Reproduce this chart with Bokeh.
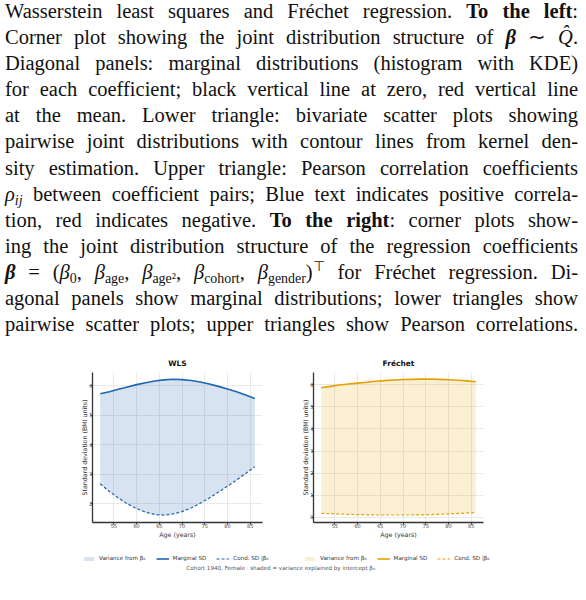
from bokeh.plotting import figure
from bokeh.models import Div, Range1d, Legend, LegendItem, Label, FixedTicker
from bokeh.layouts import column, row
from bokeh.embed import file_html
from bokeh.resources import INLINE

# ---------------- data ----------------
ages = [52, 54, 56, 58, 60, 62, 64, 66, 68, 70, 72, 74, 76, 78, 80, 82, 84, 86]
wls_marginal = [5.73, 5.80, 5.88, 5.96, 6.04, 6.10, 6.16, 6.20, 6.22, 6.21,
                6.18, 6.13, 6.06, 5.98, 5.89, 5.80, 5.69, 5.57]
wls_cond = [2.68, 2.42, 2.20, 2.00, 1.84, 1.72, 1.64, 1.62, 1.66, 1.74,
            1.86, 2.02, 2.20, 2.40, 2.60, 2.81, 3.03, 3.26]
frechet_marginal = [5.87, 5.93, 5.99, 6.04, 6.08, 6.12, 6.16, 6.19, 6.22, 6.24,
                    6.25, 6.26, 6.26, 6.25, 6.23, 6.21, 6.18, 6.14]
frechet_cond = [0.18, 0.16, 0.15, 0.13, 0.12, 0.11, 0.10, 0.10, 0.10, 0.10,
                0.10, 0.11, 0.12, 0.13, 0.15, 0.17, 0.19, 0.21]
x_ticks = [55, 60, 65, 70, 75, 80, 85]
wls_y_ticks = [2, 3, 4, 5, 6]
frechet_y_ticks = [0, 1, 2, 3, 4, 5, 6]
panel_titles = ["WLS", "Fréchet"]
legend_labels = ["Variance from β₀", "Marginal SD", "Cond. SD |β₀"]
caption = "Cohort 1940, Female  ·  shaded = variance explained by intercept β₀"

para_lines = [
    "Wasserstein least squares and Fréchet regression. <b>To the left</b>:",
    "Corner plot showing the joint distribution structure of <b><i>β</i></b> ∼ <i>Q̂</i>.",
    "Diagonal panels: marginal distributions (histogram with KDE)",
    "for each coefficient; black vertical line at zero, red vertical line",
    "at the mean. Lower triangle: bivariate scatter plots showing",
    "pairwise joint distributions with contour lines from kernel den-",
    "sity estimation. Upper triangle: Pearson correlation coefficients",
    "<i>ρ</i><sub><i>ij</i></sub> between coefficient pairs; Blue text indicates positive correla-",
    "tion, red indicates negative. <b>To the right</b>: corner plots show-",
    "ing the joint distribution structure of the regression coefficients",
    "<b><i>β</i></b> = (<i>β</i><sub>0</sub>, <i>β</i><sub>age</sub>, <i>β</i><sub>age²</sub>, "
    "<i>β</i><sub>cohort</sub>, <i>β</i><sub>gender</sub>)<sup>⊤</sup> for Fréchet regression. Di-",
    "agonal panels show marginal distributions; lower triangles show",
    "pairwise scatter plots; upper triangles show Pearson correlations.",
]

BLUE = "#1f66b2"
ORANGE = "#e69f00"
SANS = "DejaVu Sans"
FRAME_W = 170

# ---------------- paragraph ----------------
line_html = "".join(
    f'<div style="text-align:justify;text-align-last:justify;height:26.1px;'
    f'white-space:nowrap;">{ln}</div>' for ln in para_lines
)
html = (
    '<style>sub,sup{font-size:68%;line-height:0;} sub{vertical-align:-0.28em;}'
    ' sup{vertical-align:0.55em;}</style>'
    '<div style="font-family:\'Liberation Serif\',serif;font-size:20.5px;'
    'line-height:26.1px;color:#111;width:573px;margin-top:-7px;overflow:visible;">'
    + line_html + '</div>'
)
para = Div(text=html, width=573, height=344, styles={"overflow": "visible"})


def strip(height):
    s = figure(width=570, height=height, toolbar_location=None, output_backend="svg",
               x_range=Range1d(0, 1), y_range=Range1d(0, 1),
               min_border_left=0, min_border_right=0, min_border_top=0,
               min_border_bottom=0)
    s.axis.visible = False
    s.grid.visible = False
    s.outline_line_color = None
    return s


# ---------------- titles strip ----------------
tstrip = strip(16)
for t, cx in zip(panel_titles, [177, 398]):
    tstrip.add_layout(Label(x=cx, y=7, x_units="screen", y_units="screen", text=t,
                            text_align="center", text_baseline="middle",
                            text_font=SANS, text_font_size="7.5px",
                            text_font_style="bold", text_color="#111111"))


def panel(marg, cond, yr, yticks, color, fill_alpha, left, right):
    p = figure(width=left + FRAME_W + right, height=2 + 150 + 33,
               x_range=Range1d(50.3, 87.7), y_range=Range1d(*yr),
               toolbar_location=None, output_backend="svg",
               min_border_left=left, min_border_right=right,
               min_border_top=2, min_border_bottom=33)
    p.outline_line_color = None
    p.varea(x=ages, y1=cond, y2=marg, fill_color=color, fill_alpha=fill_alpha)
    p.line(ages, marg, line_color=color, line_width=1.6)
    p.line(ages, cond, line_color=color, line_width=1.2, line_dash="3 2")
    p.xaxis.ticker = FixedTicker(ticks=x_ticks)
    p.yaxis.ticker = FixedTicker(ticks=yticks)
    p.xaxis.axis_label = "Age (years)"
    p.yaxis.axis_label = "Standard deviation (BMI units)"
    for ax in (p.xaxis, p.yaxis):
        ax.axis_line_color = "#333333"
        ax.axis_line_width = 1.3
        ax.major_tick_line_color = "#333333"
        ax.major_tick_out = 2
        ax.major_tick_in = 0
        ax.minor_tick_line_color = None
        ax.major_label_text_font = SANS
        ax.major_label_text_font_size = "5px"
        ax.major_label_text_color = "#444444"
        ax.axis_label_text_font = SANS
        ax.axis_label_text_font_size = "6.3px"
        ax.axis_label_text_font_style = "normal"
        ax.axis_label_text_color = "#333333"
    p.xaxis.major_label_standoff = -1
    p.xaxis.axis_label_standoff = 0
    p.yaxis.major_label_standoff = -2
    p.yaxis.axis_label_standoff = -2
    p.grid.grid_line_color = "#e3e3e3"
    p.grid.grid_line_width = 0.8
    return p


p1 = panel(wls_marginal, wls_cond, (1.37, 6.45), wls_y_ticks, BLUE, 0.18, 92, 25)
p2 = panel(frechet_marginal, frechet_cond, (-0.24, 6.56), frechet_y_ticks,
           ORANGE, 0.17, 26, 10)

# ---------------- legend + caption strip ----------------
# legend proxies reuse the series; they fall outside this strip's 0..1 ranges
lstrip = strip(20)
series = [(BLUE, 81, 0.18, wls_marginal, wls_cond),
          (ORANGE, 302, 0.17, frechet_marginal, frechet_cond)]
for color, lx, a, marg, cond in series:
    va = lstrip.varea(x=ages, y1=cond, y2=marg, fill_color=color, fill_alpha=a)
    l1 = lstrip.line(x=ages, y=marg, line_color=color, line_width=1.6)
    l2 = lstrip.line(x=ages, y=cond, line_color=color, line_width=1.2, line_dash="3 2")
    leg = Legend(items=[LegendItem(label=legend_labels[0], renderers=[va]),
                        LegendItem(label=legend_labels[1], renderers=[l1]),
                        LegendItem(label=legend_labels[2], renderers=[l2])],
                 orientation="horizontal", location=(lx, 13))
    leg.label_text_font = SANS
    leg.label_text_font_size = "5.6px"
    leg.label_text_color = "#333333"
    leg.glyph_width = 13
    leg.glyph_height = 5
    leg.label_height = 5
    leg.label_standoff = 4
    leg.spacing = 10
    leg.padding = 1
    leg.margin = 0
    leg.border_line_alpha = 0
    leg.background_fill_alpha = 0
    lstrip.add_layout(leg, "center")

lstrip.add_layout(Label(x=282, y=8, x_units="screen", y_units="screen", text=caption,
                        text_align="center", text_baseline="middle",
                        text_font=SANS, text_font_size="5.6px", text_color="#555555"))

layout = column(para, tstrip, row(p1, p2), lstrip)
open("out.html", "w").write(file_html(layout, INLINE))
